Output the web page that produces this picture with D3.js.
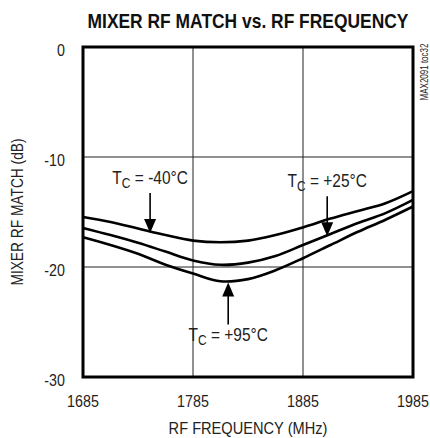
<!DOCTYPE html>
<html><head><meta charset="utf-8">
<script src="https://cdn.jsdelivr.net/npm/d3@7"></script>
<style>body{margin:0;background:#fff}text{font-family:"Liberation Sans Narrow","Liberation Sans",Arial,sans-serif;}</style>
</head><body><svg id="c" width="430" height="438"></svg>
<script>
const freqs = [1685,1710,1735,1760,1785,1810,1835,1860,1885,1910,1935,1960,1985];
const tM40 = [-15.45,-15.9,-16.5,-17.1,-17.6,-17.75,-17.6,-17.1,-16.4,-15.6,-14.9,-14.2,-13.1];
const tP25 = [-16.45,-17.1,-17.8,-18.6,-19.4,-19.8,-19.6,-19.0,-18.0,-17.0,-16.0,-15.1,-13.9];
const tP95 = [-17.3,-18.0,-18.8,-19.8,-20.6,-21.3,-21.1,-20.3,-19.2,-18.0,-16.8,-15.7,-14.5];
const xTicks = [1685,1785,1885,1985];
const yTicks = [0,-10,-20,-30];
const labels = [
  {t:"-40", f:1746, v:-16.9, dir:"down"},
  {t:"+25", f:1907, v:-17.2, dir:"down"},
  {t:"+95", f:1817, v:-21.4, dir:"up"}
];

const svg = d3.select("#c");
const L=83,R=413,T=47,B=377;
const x = d3.scaleLinear().domain([1685,1985]).range([L,R]);
const y = d3.scaleLinear().domain([-30,0]).range([B,T]);
const K = 0.84;

const title = svg.append("text").attr("text-anchor","middle")
  .attr("font-size",20).attr("font-weight","bold").attr("fill","#111")
  .text("MIXER RF MATCH vs. RF FREQUENCY");
const tw = title.node().getComputedTextLength();
title.attr("transform",`translate(248,28) scale(${321/tw},1)`);

svg.append("g").selectAll("line").data(xTicks.slice(1,-1)).join("line")
  .attr("x1",d=>x(d)).attr("x2",d=>x(d)).attr("y1",T).attr("y2",B).attr("stroke","#222").attr("stroke-width",1);
svg.append("g").selectAll("line").data(yTicks.slice(1,-1)).join("line")
  .attr("y1",d=>y(d)).attr("y2",d=>y(d)).attr("x1",L).attr("x2",R).attr("stroke","#222").attr("stroke-width",1);

svg.append("g").selectAll("text").data(xTicks).join("text")
  .attr("transform",d=>`translate(${x(d)},${B+30}) scale(${K},1)`)
  .attr("text-anchor","middle").attr("font-size",17).attr("fill","#222").text(d=>String(d));
svg.append("g").selectAll("text").data(yTicks).join("text")
  .attr("transform",d=>`translate(${L-18},${y(d)+9}) scale(${K},1)`)
  .attr("text-anchor","end").attr("font-size",17).attr("fill","#222").text(d=>String(d));

svg.append("text").attr("transform","translate(248,434) scale(0.86,1)").attr("text-anchor","middle").attr("font-size",17).attr("fill","#222").text("RF FREQUENCY (MHz)");
svg.append("text").attr("transform","translate(23,212) rotate(-90) scale(0.86,1)").attr("text-anchor","middle").attr("font-size",16).attr("fill","#222").text("MIXER RF MATCH (dB)");
svg.append("text").attr("transform","translate(428,72) rotate(-90) scale(0.8,1)").attr("text-anchor","middle").attr("font-size",10).attr("fill","#222").text("MAX2091 toc32");

const line = d3.line().x((d,i)=>x(freqs[i])).y(d=>y(d)).curve(d3.curveCatmullRom);
[tM40,tP25,tP95].forEach(s=>{
  svg.append("path").attr("d",line(s)).attr("fill","none").attr("stroke","#000").attr("stroke-width",2.6);
});

svg.append("rect").attr("x",L).attr("y",T).attr("width",R-L).attr("height",B-T).attr("fill","none").attr("stroke","#000").attr("stroke-width",3);

labels.forEach(a=>{
  const ax=x(a.f), ay=y(a.v);
  let ty, y0;
  if(a.dir==="down"){ y0=ay-40; ty=y0-9; }
  else { y0=ay+42; ty=y0+17; }
  svg.append("line").attr("x1",ax).attr("x2",ax).attr("y1",y0).attr("y2",a.dir==="down"?ay-12:ay+12).attr("stroke","#000").attr("stroke-width",1.6);
  const h = a.dir==="down"? `M${ax-6},${ay-14}L${ax+6},${ay-14}L${ax},${ay}Z` : `M${ax-6},${ay+14}L${ax+6},${ay+14}L${ax},${ay}Z`;
  svg.append("path").attr("d",h).attr("fill","#000");
  const t = svg.append("text").attr("transform",`translate(${ax},${ty}) scale(0.86,1)`).attr("text-anchor","middle").attr("font-size",18).attr("fill","#222");
  t.append("tspan").text("T");
  t.append("tspan").attr("font-size",14).attr("dy",4).text("C");
  t.append("tspan").attr("dy",-4).text(" = "+a.t+"°C");
});
</script></body></html>
